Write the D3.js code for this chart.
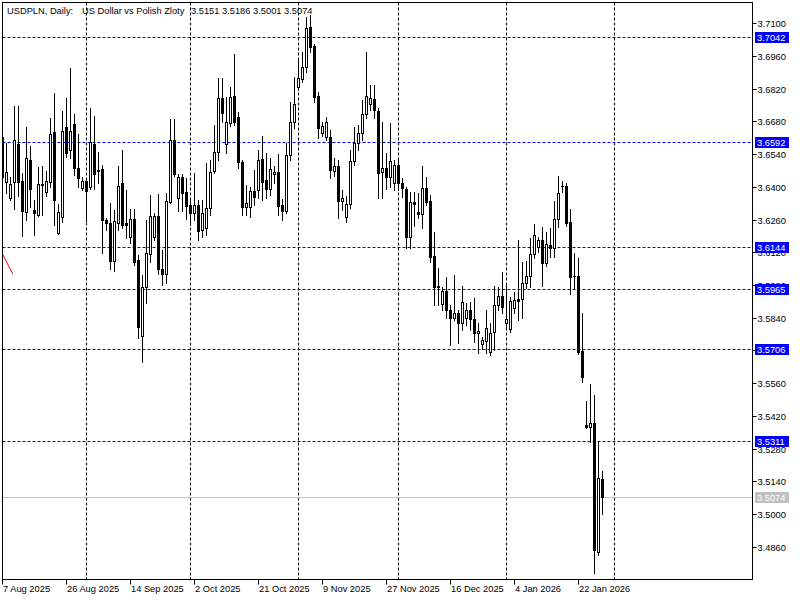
<!DOCTYPE html>
<html><head><meta charset="utf-8">
<script src="https://cdn.jsdelivr.net/npm/d3@7"></script>
<style>
body{margin:0;background:#fff;}
svg{display:block;}
text{font-family:"Liberation Sans",Arial,sans-serif;font-size:9.3px;}
</style>
</head><body>
<svg id="chart" width="800" height="600"></svg>
<script>
// ---- data (daily bars, oldest first) ----
const opens = [3.6614,3.6421,3.6353,3.6421,3.6584,3.6425,3.6293,3.6515,3.6301,3.6280,
3.6412,3.6378,3.6421,3.6635,3.6203,3.6271,3.6656,3.6558,3.6669,3.6481,
3.6395,3.6425,3.6400,3.6584,3.6472,3.6477,3.6258,3.6246,3.6083,3.6246,
3.6417,3.6246,3.6186,3.6263,3.6087,3.5762,3.5972,3.6113,3.6186,3.6276,
3.6049,3.6027,3.6335,3.6601,3.6353,3.6442,3.6378,3.6323,3.6288,3.6323,
3.6216,3.6224,3.6310,3.6468,3.6549,3.6781,3.6584,3.6674,3.6789,3.6699,
3.6507,3.6314,3.6314,3.6383,3.6387,3.6519,3.6430,3.6391,3.6455,3.6464,
3.6323,3.6297,3.6537,3.6678,3.6828,3.6862,3.6913,3.7084,3.7003,3.6789,
3.6631,3.6614,3.6614,3.6468,3.6490,3.6340,3.6271,3.6327,3.6511,3.6588,
3.6631,3.6712,3.6755,3.6776,3.6725,3.6464,3.6481,3.6442,3.6417,3.6494,
3.6417,3.6391,3.6186,3.6335,3.6293,3.6284,3.6395,3.6340,3.6104,3.5976,
3.5899,3.5955,3.5873,3.5839,3.5860,3.5818,3.5839,3.5873,3.5835,3.5775,
3.5728,3.5741,3.5693,3.5779,3.5895,3.5933,3.5818,3.5792,3.5882,3.5920,
3.5920,3.5989,3.6019,3.6113,3.6143,3.6173,3.6074,3.6151,3.6139,3.6263,
3.6404,3.6404,3.6250,3.6019,3.6019,3.5698,3.5381,3.5372,3.5390,3.4837,
3.5151];
const highs = [3.6622,3.6588,3.6442,3.6746,3.6746,3.6460,3.6656,3.6575,3.6344,3.6485,
3.6490,3.6468,3.6695,3.6802,3.6327,3.6725,3.6781,3.6909,3.6712,3.6626,
3.6442,3.6438,3.6738,3.6704,3.6549,3.6494,3.6267,3.6331,3.6301,3.6490,
3.6558,3.6387,3.6305,3.6305,3.6109,3.6023,3.6258,3.6365,3.6288,3.6370,
3.6130,3.6374,3.6691,3.6691,3.6455,3.6455,3.6438,3.6344,3.6460,3.6344,
3.6344,3.6502,3.6515,3.6665,3.6866,3.6866,3.6785,3.6828,3.6969,3.6721,
3.6515,3.6408,3.6400,3.6472,3.6558,3.6618,3.6545,3.6524,3.6490,3.6541,
3.6348,3.6588,3.6763,3.6870,3.6952,3.6977,3.7127,3.7136,3.7012,3.6806,
3.6678,3.6699,3.6644,3.6524,3.6515,3.6387,3.6361,3.6558,3.6656,3.6665,
3.6772,3.6977,3.6836,3.6836,3.6738,3.6678,3.6545,3.6674,3.6515,3.6515,
3.6438,3.6400,3.6378,3.6378,3.6374,3.6490,3.6442,3.6365,3.6207,3.6053,
3.5972,3.6014,3.5895,3.6023,3.5873,3.5976,3.5903,3.5907,3.5925,3.5818,
3.5758,3.5873,3.5818,3.5976,3.5972,3.6036,3.5989,3.5929,3.5950,3.6173,
3.6079,3.6083,3.6181,3.6241,3.6186,3.6228,3.6207,3.6224,3.6340,3.6447,
3.6425,3.6417,3.6305,3.6117,3.6096,3.5860,3.5484,3.5556,3.5509,3.5313,
3.5186];
const lows = [3.6430,3.6374,3.6344,3.6305,3.6361,3.6190,3.6258,3.6314,3.6194,3.6276,
3.6280,3.6361,3.6400,3.6237,3.6198,3.6250,3.6528,3.6524,3.6451,3.6400,
3.6387,3.6254,3.6391,3.6391,3.6417,3.6117,3.6216,3.6049,3.6040,3.6216,
3.6224,3.6181,3.6160,3.6066,3.5753,3.5651,3.5903,3.6079,3.6173,3.6027,
3.5980,3.5989,3.6331,3.6447,3.6297,3.6297,3.6263,3.6237,3.6258,3.6173,
3.6186,3.6194,3.6280,3.6460,3.6515,3.6678,3.6545,3.6661,3.6665,3.6481,
3.6280,3.6280,3.6271,3.6323,3.6353,3.6344,3.6353,3.6365,3.6417,3.6280,
3.6258,3.6288,3.6515,3.6652,3.6815,3.6849,3.6892,3.6977,3.6763,3.6609,
3.6618,3.6601,3.6438,3.6447,3.6267,3.6301,3.6250,3.6310,3.6494,3.6558,
3.6601,3.6695,3.6729,3.6695,3.6353,3.6353,3.6391,3.6400,3.6387,3.6387,
3.6357,3.6139,3.6139,3.6233,3.6267,3.6224,3.6323,3.6079,3.5895,3.5895,
3.5873,3.5839,3.5723,3.5830,3.5732,3.5788,3.5809,3.5788,3.5736,3.5689,
3.5706,3.5689,3.5681,3.5702,3.5873,3.5860,3.5796,3.5779,3.5860,3.5830,
3.5839,3.5967,3.5972,3.6096,3.6121,3.5976,3.6062,3.6100,3.6100,3.6228,
3.6378,3.6233,3.5942,3.5963,3.5685,3.5565,3.5368,3.5308,3.4748,3.4825,
3.5001];
const closes = [3.6442,3.6464,3.6412,3.6601,3.6421,3.6297,3.6524,3.6391,3.6288,3.6412,
3.6408,3.6425,3.6626,3.6344,3.6293,3.6639,3.6545,3.6639,3.6481,3.6438,
3.6425,3.6383,3.6592,3.6455,3.6468,3.6258,3.6246,3.6083,3.6254,3.6404,
3.6237,3.6237,3.6263,3.6079,3.5800,3.5972,3.6117,3.6276,3.6276,3.6049,
3.6027,3.6340,3.6601,3.6455,3.6442,3.6374,3.6318,3.6288,3.6323,3.6211,
3.6288,3.6310,3.6464,3.6549,3.6781,3.6716,3.6678,3.6785,3.6678,3.6507,
3.6314,3.6331,3.6383,3.6357,3.6515,3.6421,3.6391,3.6477,3.6464,3.6318,
3.6297,3.6537,3.6678,3.6755,3.6866,3.6913,3.7080,3.6999,3.6785,3.6652,
3.6661,3.6678,3.6472,3.6490,3.6340,3.6353,3.6327,3.6511,3.6588,3.6631,
3.6712,3.6789,3.6781,3.6729,3.6460,3.6481,3.6442,3.6511,3.6494,3.6417,
3.6395,3.6186,3.6335,3.6327,3.6284,3.6395,3.6335,3.6100,3.5972,3.5972,
3.5955,3.5873,3.5839,3.5860,3.5818,3.5907,3.5873,3.5835,3.5775,3.5783,
3.5745,3.5796,3.5775,3.5895,3.5933,3.5886,3.5835,3.5912,3.5916,3.5912,
3.5989,3.6019,3.6113,3.6194,3.6173,3.6074,3.6156,3.6139,3.6263,3.6374,
3.6402,3.6246,3.6014,3.6017,3.5693,3.5586,3.5372,3.5390,3.4846,3.5154,
3.5074];

const dateLabels = ["7 Aug 2025","26 Aug 2025","14 Sep 2025","2 Oct 2025","21 Oct 2025",
                    "9 Nov 2025","27 Nov 2025","16 Dec 2025","4 Jan 2026","22 Jan 2026"];
const dateLabelBars = [0,16,32,48,64,80,96,112,128,144];
const gridBars = [21,47,74,99,126,153];
const priceTicks = [3.7100,3.6960,3.6820,3.6680,3.6540,3.6400,3.6260,3.6120,3.5980,
                    3.5840,3.5700,3.5560,3.5420,3.5280,3.5140,3.5000,3.4860];
const levels = [3.7042,3.6592,3.6144,3.5965,3.5706,3.5311];
const lastPrice = 3.5074;
const trendBars = [0.1,2.7];
const trendPrices = [3.6113,3.6027];
const headerSymbol = "USDPLN, Daily:";
const headerName = "US Dollar vs Polish Zloty";
const headerOHLC = "3.5151 3.5186 3.5001 3.5074";

// ---- layout ----
const svg = d3.select("#chart");
const L = 2.5, R = 752.5, T = 2.5, B = 579.5;
const x = d3.scaleLinear().domain([0,150]).range([2,602]);
const y = d3.scaleLinear().domain([3.4860,3.7100]).range([546.7,23.3]);
const col = k => Math.round(x(k));
const py = p => Math.round(y(p));

svg.append("rect").attr("width",800).attr("height",600).attr("fill","#fff");

svg.append("clipPath").attr("id","plot")
  .append("rect").attr("x",L).attr("y",T).attr("width",R-L).attr("height",B-T);
const plot = svg.append("g").attr("clip-path","url(#plot)");

// vertical grid
plot.selectAll("line.vg").data(gridBars).join("line")
  .attr("x1",d=>col(d)+0.5).attr("x2",d=>col(d)+0.5)
  .attr("y1",T).attr("y2",B)
  .attr("stroke","#000").attr("stroke-width",1).attr("stroke-dasharray","3,2");

// level lines
plot.selectAll("line.lv").data(levels).join("line")
  .attr("x1",L).attr("x2",R)
  .attr("y1",d=>py(d)+0.5).attr("y2",d=>py(d)+0.5)
  .attr("stroke","#0000ff").attr("stroke-width",1).attr("stroke-dasharray","3,2");

// last price line
plot.append("line").attr("x1",L).attr("x2",R)
  .attr("y1",py(lastPrice)+0.5).attr("y2",py(lastPrice)+0.5)
  .attr("stroke","#c0c0c0").attr("stroke-width",1);

// red trend segment
plot.append("line")
  .attr("x1",x(trendBars[0])).attr("y1",y(trendPrices[0]))
  .attr("x2",x(trendBars[1])).attr("y2",y(trendPrices[1]))
  .attr("stroke","#ff0000").attr("stroke-width",1);

// candles
const bars = d3.range(opens.length).map(i=>({i,o:opens[i],h:highs[i],l:lows[i],c:closes[i]}));
const g = plot.append("g");
bars.forEach(b=>{
  const cx = col(b.i);
  g.append("line").attr("x1",cx+0.5).attr("x2",cx+0.5)
    .attr("y1",py(b.h)).attr("y2",py(b.l)+1)
    .attr("stroke","#000").attr("stroke-width",1);
  const top = Math.min(py(b.o),py(b.c)), bot = Math.max(py(b.o),py(b.c));
  const up = b.c >= b.o;
  if (bot - top < 2) {
    g.append("rect").attr("x",cx-1).attr("y",top).attr("width",3).attr("height",Math.max(1,bot-top+1)).attr("fill","#000");
  } else if (up) {
    g.append("rect").attr("x",cx-0.5).attr("y",top+0.5).attr("width",2).attr("height",bot-top)
      .attr("fill","#fff").attr("stroke","#000").attr("stroke-width",1);
  } else {
    g.append("rect").attr("x",cx-1).attr("y",top).attr("width",3).attr("height",bot-top+1).attr("fill","#000");
  }
});

// frame
svg.append("rect").attr("x",L).attr("y",T).attr("width",R-L).attr("height",B-T)
  .attr("fill","none").attr("stroke","#000").attr("stroke-width",1);

// price axis
const pa = svg.append("g");
priceTicks.forEach(p=>{
  const yy = py(p)+0.5;
  pa.append("line").attr("x1",R).attr("x2",R+4).attr("y1",yy).attr("y2",yy).attr("stroke","#000");
  pa.append("text").attr("x",R+5).attr("y",yy+3.5).attr("fill","#000").text(p.toFixed(4));
});
levels.forEach(p=>{
  const yy = py(p);
  pa.append("rect").attr("x",755).attr("y",yy-5).attr("width",34).attr("height",11).attr("fill","#0000ff");
  pa.append("text").attr("x",757).attr("y",yy+4).attr("fill","#fff").text(p.toFixed(4));
});
{
  const yy = py(lastPrice);
  pa.append("rect").attr("x",755).attr("y",yy-5).attr("width",34).attr("height",11).attr("fill","#c0c0c0");
  pa.append("text").attr("x",757).attr("y",yy+4).attr("fill","#fff").text(lastPrice.toFixed(4));
}

// date axis
const da = svg.append("g");
dateLabelBars.forEach((k,j)=>{
  const xx = col(k)+0.5;
  da.append("line").attr("x1",xx).attr("x2",xx).attr("y1",B).attr("y2",B+5).attr("stroke","#000");
  da.append("text").attr("x",xx+0.5).attr("y",592).attr("fill","#000").text(dateLabels[j]);
});

// header
svg.append("text").attr("x",7).attr("y",13.5).text(headerSymbol);
svg.append("text").attr("x",82).attr("y",13.5).text(headerName);
svg.append("text").attr("x",191).attr("y",13.5).text(headerOHLC);
</script>
</body></html>
